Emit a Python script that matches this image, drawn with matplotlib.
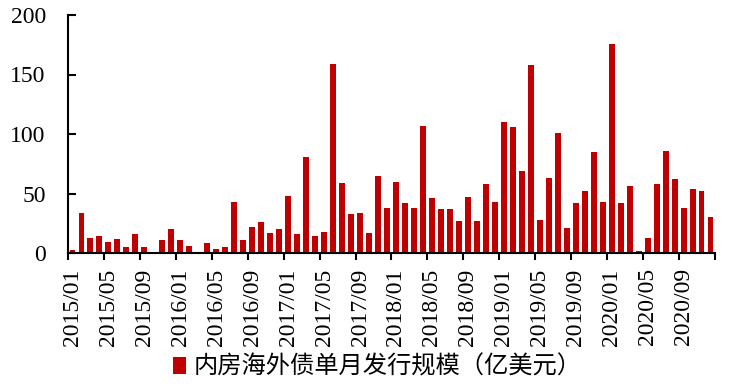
import matplotlib
matplotlib.use("Agg")
import matplotlib.pyplot as plt
import numpy as np
from matplotlib.patches import Patch

months = [f"{y}/{m:02d}" for y in range(2015, 2021) for m in range(1, 13)]
values = [
    2.5, 34, 13, 14, 9, 12, 5, 16, 5, 0, 11, 20,
    11, 6, 0, 8, 3, 5, 43, 11, 22, 26, 17, 20,
    48, 16, 81, 14, 18, 159, 59, 33, 34, 17, 65, 38,
    60, 42, 38, 107, 46, 37, 37, 27, 47, 27, 58, 43,
    110, 106, 69, 158, 28, 63, 101, 21, 42, 52, 85, 43,
    176, 42, 56, 2, 13, 58, 86, 62, 38, 54, 52, 30,
]
legend_label = "内房海外债单月发行规模（亿美元）"
yticks = [0, 50, 100, 150, 200]

fig = plt.figure(figsize=(7.3, 3.88), dpi=100)
ax = fig.add_axes([68/730, (388-253)/388, (715-68)/730, (253-15)/388])

x = np.arange(len(values))
ax.bar(x, values, width=0.66, color="#C00000", align="center")

ax.set_xlim(-0.5, len(values) - 0.5)
ax.set_ylim(0, 200)
ax.set_yticks(yticks)
ax.set_yticklabels([str(v) for v in yticks], fontfamily="Liberation Serif", fontsize=17)
ax.tick_params(axis="y", direction="in", length=6, width=1.5, pad=16)

tick_pos = np.arange(0, len(values) + 1, 4) - 0.5
ax.set_xticks(tick_pos)
ax.set_xticklabels([])
ax.tick_params(axis="x", direction="out", length=5, width=1.5)
for i in range(0, len(values), 4):
    ax.annotate(months[i], xy=(i, 0), xycoords=("data", "axes fraction"),
                xytext=(0, -11), textcoords="offset points",
                rotation=90, ha="center", va="top",
                fontfamily="Liberation Serif", fontsize=17)

for s in ["top", "right"]:
    ax.spines[s].set_visible(False)
ax.spines["left"].set_linewidth(1.5)
ax.spines["bottom"].set_linewidth(1.5)

handle = Patch(facecolor="#C00000", edgecolor="none")
fig.legend([handle], [legend_label], loc="center", bbox_to_anchor=(377/730, 1 - 367/388),
           frameon=False, prop={"family": ["Noto Sans CJK SC", "DejaVu Sans"], "size": 17.5},
           handlelength=0.55, handleheight=0.75, handletextpad=0.3)

fig.savefig("out.png", dpi=100)
